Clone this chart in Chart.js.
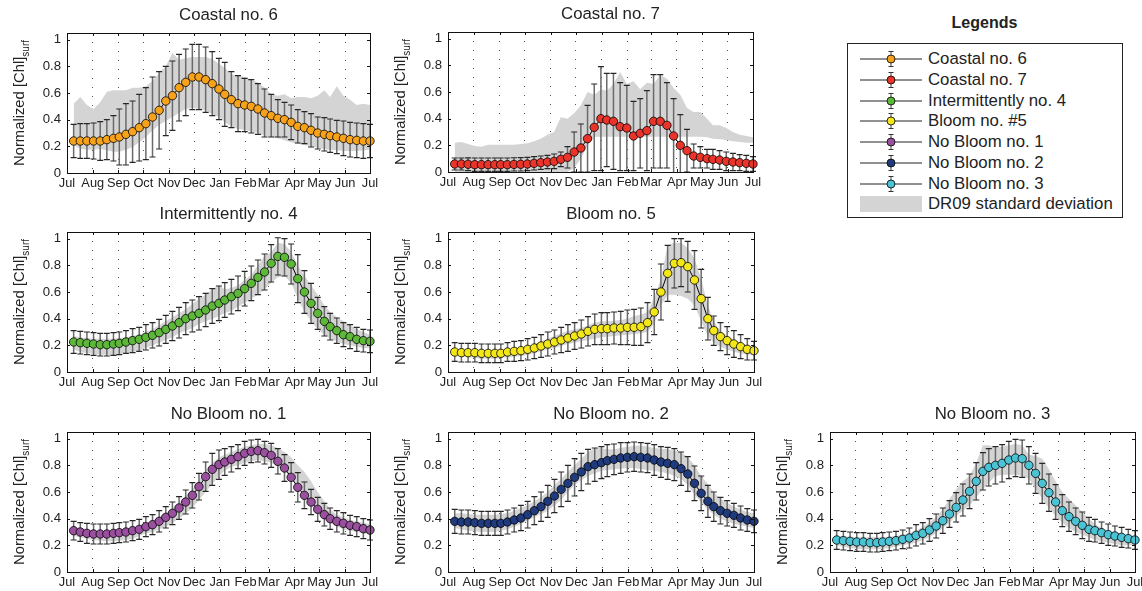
<!DOCTYPE html>
<html>
<head>
<meta charset="utf-8">
<title>Normalized [Chl]surf seasonal cycles</title>
<script src="https://cdn.jsdelivr.net/npm/chart.js@4.4.1/dist/chart.umd.min.js"></script>
<style>
  html, body { margin: 0; padding: 0; background: #fff; }
  body { width: 1142px; height: 591px; position: relative; overflow: hidden; font-family: "Liberation Sans", Arial, sans-serif; color: #222; }
  canvas { position: absolute; }
  #legendTitle { position: absolute; left: 847px; width: 275px; top: 14px; text-align: center; font-weight: bold; font-size: 16px; }
  #legendBox { position: absolute; left: 847px; top: 43px; width: 274px; height: 173px; border: 1px solid #222; }
  .entry { position: absolute; left: 0; height: 20px; display: flex; align-items: center; font-size: 16.8px; white-space: nowrap; }
  .entry svg { margin-left: 11px; margin-right: 5px; }
</style>
</head>
<body>
<div id="legendTitle">Legends</div>
<div id="legendBox"></div>
<script>
// Eje temporal: compuestos de 8 días, de julio a julio
const days = [8, 16, 24, 32, 40, 48, 56, 63, 71, 79, 87, 95, 103, 111, 119, 127, 135, 143, 151, 159, 167, 175, 183, 190, 198, 206, 214, 222, 230, 238, 246, 254, 262, 270, 278, 286, 294, 302, 310, 317, 325, 333, 341, 349, 357, 365];
const monthTicks = [0, 31, 62, 92, 123, 153, 184, 215, 243, 274, 304, 335, 365];
const monthLabels = ['Jul', 'Aug', 'Sep', 'Oct', 'Nov', 'Dec', 'Jan', 'Feb', 'Mar', 'Apr', 'May', 'Jun', 'Jul'];
const yTicks = [0, 0.2, 0.4, 0.6, 0.8, 1];

// Coastal no. 6
const c6Mean = [0.24, 0.24, 0.24, 0.24, 0.24, 0.25, 0.26, 0.27, 0.29, 0.31, 0.34, 0.37, 0.42, 0.47, 0.54, 0.58, 0.64, 0.68, 0.72, 0.72, 0.70, 0.67, 0.63, 0.59, 0.55, 0.52, 0.51, 0.50, 0.48, 0.45, 0.43, 0.41, 0.40, 0.38, 0.35, 0.34, 0.32, 0.30, 0.29, 0.28, 0.27, 0.26, 0.25, 0.245, 0.24, 0.24];
const c6Sd = [0.125, 0.13, 0.13, 0.135, 0.145, 0.15, 0.17, 0.21, 0.23, 0.23, 0.25, 0.27, 0.30, 0.29, 0.26, 0.26, 0.25, 0.25, 0.245, 0.245, 0.245, 0.24, 0.23, 0.24, 0.21, 0.21, 0.20, 0.20, 0.19, 0.18, 0.16, 0.14, 0.13, 0.13, 0.125, 0.12, 0.125, 0.12, 0.125, 0.125, 0.125, 0.13, 0.13, 0.13, 0.13, 0.125];
const c6BandHi = [0.52, 0.57, 0.51, 0.48, 0.53, 0.61, 0.62, 0.62, 0.62, 0.64, 0.64, 0.65, 0.69, 0.75, 0.80, 0.90, 0.85, 0.86, 0.87, 0.87, 0.87, 0.855, 0.82, 0.79, 0.74, 0.73, 0.72, 0.70, 0.68, 0.64, 0.59, 0.58, 0.59, 0.56, 0.57, 0.57, 0.56, 0.58, 0.62, 0.57, 0.65, 0.58, 0.55, 0.51, 0.52, 0.51];
const c6BandLo = [0.21, 0.18, 0.175, 0.175, 0.18, 0.17, 0.16, 0.16, 0.175, 0.195, 0.23, 0.27, 0.32, 0.36, 0.39, 0.42, 0.45, 0.48, 0.49, 0.48, 0.47, 0.44, 0.42, 0.38, 0.35, 0.33, 0.325, 0.31, 0.30, 0.28, 0.27, 0.26, 0.245, 0.23, 0.22, 0.21, 0.20, 0.19, 0.18, 0.175, 0.17, 0.165, 0.165, 0.165, 0.17, 0.175];

// Coastal no. 7
const c7Mean = [0.06, 0.06, 0.058, 0.055, 0.055, 0.055, 0.055, 0.055, 0.055, 0.057, 0.058, 0.06, 0.065, 0.07, 0.075, 0.08, 0.095, 0.11, 0.15, 0.18, 0.25, 0.335, 0.40, 0.39, 0.38, 0.34, 0.33, 0.27, 0.29, 0.31, 0.38, 0.38, 0.35, 0.27, 0.20, 0.16, 0.12, 0.11, 0.10, 0.095, 0.09, 0.08, 0.075, 0.07, 0.065, 0.06];
const c7Sd = [0.045, 0.045, 0.048, 0.05, 0.05, 0.05, 0.05, 0.05, 0.05, 0.05, 0.05, 0.05, 0.05, 0.05, 0.05, 0.055, 0.055, 0.08, 0.15, 0.18, 0.25, 0.325, 0.39, 0.35, 0.36, 0.33, 0.32, 0.26, 0.26, 0.30, 0.35, 0.35, 0.32, 0.28, 0.23, 0.16, 0.09, 0.08, 0.07, 0.075, 0.07, 0.07, 0.065, 0.06, 0.06, 0.055];
const c7BandHi = [0.22, 0.225, 0.21, 0.195, 0.19, 0.205, 0.205, 0.205, 0.205, 0.205, 0.21, 0.215, 0.23, 0.25, 0.28, 0.30, 0.41, 0.40, 0.44, 0.50, 0.60, 0.58, 0.62, 0.61, 0.66, 0.75, 0.66, 0.68, 0.62, 0.67, 0.66, 0.73, 0.70, 0.63, 0.58, 0.48, 0.45, 0.45, 0.40, 0.35, 0.35, 0.33, 0.30, 0.28, 0.27, 0.26];
const c7BandLo = [0, 0, 0, 0, 0, 0, 0, 0, 0, 0, 0, 0, 0, 0, 0, 0, 0, 0, 0.03, 0.10, 0.20, 0.265, 0.265, 0.265, 0.265, 0.265, 0.265, 0.265, 0.265, 0.265, 0.265, 0.265, 0.265, 0.265, 0.265, 0.265, 0.265, 0.265, 0.26, 0.25, 0.245, 0.24, 0.23, 0.225, 0.22, 0.22];

// Intermittently no. 4
const i4Mean = [0.225, 0.22, 0.215, 0.21, 0.205, 0.205, 0.21, 0.215, 0.225, 0.235, 0.245, 0.26, 0.275, 0.295, 0.32, 0.345, 0.37, 0.40, 0.42, 0.44, 0.465, 0.495, 0.515, 0.54, 0.565, 0.59, 0.625, 0.665, 0.71, 0.75, 0.815, 0.867, 0.86, 0.81, 0.70, 0.60, 0.515, 0.44, 0.38, 0.34, 0.31, 0.28, 0.265, 0.245, 0.235, 0.23];
const i4Sd = [0.085, 0.085, 0.085, 0.085, 0.085, 0.085, 0.085, 0.085, 0.085, 0.09, 0.09, 0.095, 0.095, 0.10, 0.105, 0.11, 0.115, 0.12, 0.12, 0.125, 0.125, 0.13, 0.13, 0.13, 0.13, 0.13, 0.13, 0.13, 0.13, 0.135, 0.14, 0.14, 0.14, 0.15, 0.18, 0.16, 0.15, 0.12, 0.11, 0.10, 0.095, 0.09, 0.09, 0.09, 0.085, 0.085];
const i4BandHi = [0.27, 0.26, 0.255, 0.25, 0.25, 0.25, 0.25, 0.255, 0.26, 0.27, 0.28, 0.30, 0.32, 0.35, 0.38, 0.41, 0.44, 0.47, 0.51, 0.55, 0.58, 0.62, 0.65, 0.62, 0.63, 0.65, 0.69, 0.73, 0.80, 0.87, 0.90, 0.97, 0.96, 0.90, 0.80, 0.72, 0.65, 0.58, 0.50, 0.45, 0.41, 0.38, 0.35, 0.32, 0.30, 0.28];
const i4BandLo = [0.17, 0.15, 0.14, 0.135, 0.13, 0.13, 0.13, 0.135, 0.14, 0.15, 0.16, 0.18, 0.20, 0.22, 0.24, 0.26, 0.29, 0.31, 0.33, 0.36, 0.38, 0.40, 0.42, 0.44, 0.46, 0.49, 0.52, 0.55, 0.58, 0.62, 0.67, 0.71, 0.72, 0.67, 0.55, 0.45, 0.38, 0.32, 0.28, 0.25, 0.23, 0.21, 0.20, 0.19, 0.18, 0.18];

// Bloom no. 5
const b5Mean = [0.15, 0.145, 0.145, 0.145, 0.14, 0.14, 0.14, 0.14, 0.15, 0.155, 0.16, 0.17, 0.18, 0.195, 0.21, 0.225, 0.24, 0.255, 0.27, 0.285, 0.305, 0.32, 0.325, 0.325, 0.33, 0.33, 0.335, 0.335, 0.34, 0.37, 0.45, 0.60, 0.74, 0.815, 0.82, 0.79, 0.69, 0.55, 0.40, 0.31, 0.265, 0.235, 0.21, 0.19, 0.17, 0.16];
const b5Sd = [0.07, 0.07, 0.07, 0.07, 0.07, 0.07, 0.07, 0.07, 0.07, 0.075, 0.075, 0.08, 0.08, 0.085, 0.09, 0.09, 0.095, 0.10, 0.10, 0.105, 0.11, 0.115, 0.12, 0.12, 0.12, 0.125, 0.13, 0.135, 0.14, 0.15, 0.17, 0.21, 0.21, 0.185, 0.18, 0.19, 0.22, 0.22, 0.16, 0.11, 0.105, 0.105, 0.10, 0.09, 0.08, 0.07];
const b5BandHi = [0.17, 0.165, 0.165, 0.16, 0.16, 0.16, 0.16, 0.16, 0.165, 0.17, 0.18, 0.19, 0.21, 0.23, 0.25, 0.27, 0.29, 0.31, 0.32, 0.33, 0.35, 0.37, 0.38, 0.38, 0.385, 0.39, 0.40, 0.42, 0.43, 0.45, 0.56, 0.70, 0.95, 0.97, 0.97, 0.93, 0.85, 0.70, 0.50, 0.38, 0.31, 0.27, 0.24, 0.22, 0.20, 0.18];
const b5BandLo = [0.12, 0.115, 0.11, 0.105, 0.10, 0.10, 0.10, 0.105, 0.11, 0.115, 0.12, 0.13, 0.14, 0.155, 0.17, 0.18, 0.195, 0.21, 0.22, 0.23, 0.24, 0.25, 0.26, 0.265, 0.27, 0.275, 0.28, 0.285, 0.29, 0.30, 0.36, 0.50, 0.58, 0.58, 0.57, 0.55, 0.50, 0.38, 0.27, 0.22, 0.19, 0.17, 0.15, 0.14, 0.13, 0.13];

// No Bloom no. 1
const n1Mean = [0.31, 0.30, 0.29, 0.285, 0.285, 0.285, 0.29, 0.295, 0.30, 0.31, 0.32, 0.34, 0.355, 0.38, 0.41, 0.44, 0.48, 0.525, 0.575, 0.64, 0.715, 0.77, 0.805, 0.825, 0.845, 0.865, 0.89, 0.905, 0.91, 0.895, 0.875, 0.83, 0.78, 0.71, 0.635, 0.575, 0.525, 0.47, 0.43, 0.40, 0.38, 0.365, 0.35, 0.34, 0.325, 0.315];
const n1Sd = [0.07, 0.07, 0.075, 0.075, 0.075, 0.075, 0.075, 0.075, 0.075, 0.075, 0.075, 0.075, 0.075, 0.08, 0.08, 0.085, 0.085, 0.09, 0.095, 0.10, 0.11, 0.12, 0.11, 0.10, 0.095, 0.09, 0.09, 0.085, 0.085, 0.085, 0.09, 0.095, 0.10, 0.11, 0.11, 0.10, 0.095, 0.09, 0.085, 0.08, 0.08, 0.08, 0.075, 0.075, 0.075, 0.075];
const n1BandHi = [0.34, 0.33, 0.32, 0.315, 0.31, 0.31, 0.31, 0.315, 0.32, 0.33, 0.34, 0.36, 0.38, 0.41, 0.44, 0.48, 0.52, 0.57, 0.62, 0.69, 0.76, 0.82, 0.86, 0.88, 0.90, 0.92, 0.94, 0.95, 0.96, 0.96, 0.95, 0.93, 0.90, 0.86, 0.80, 0.75, 0.68, 0.60, 0.53, 0.47, 0.43, 0.41, 0.39, 0.38, 0.37, 0.36];
const n1BandLo = [0.27, 0.26, 0.25, 0.24, 0.235, 0.23, 0.23, 0.235, 0.24, 0.25, 0.27, 0.29, 0.30, 0.32, 0.34, 0.37, 0.40, 0.44, 0.48, 0.54, 0.60, 0.66, 0.72, 0.76, 0.79, 0.80, 0.82, 0.83, 0.84, 0.83, 0.82, 0.79, 0.76, 0.70, 0.63, 0.57, 0.50, 0.44, 0.40, 0.37, 0.34, 0.32, 0.31, 0.30, 0.29, 0.28];

// No Bloom no. 2
const n2Mean = [0.38, 0.375, 0.375, 0.37, 0.365, 0.365, 0.365, 0.365, 0.375, 0.39, 0.405, 0.43, 0.46, 0.49, 0.53, 0.57, 0.62, 0.665, 0.71, 0.75, 0.79, 0.805, 0.82, 0.835, 0.845, 0.855, 0.86, 0.865, 0.86, 0.855, 0.84, 0.825, 0.815, 0.805, 0.775, 0.735, 0.665, 0.59, 0.53, 0.49, 0.46, 0.44, 0.425, 0.405, 0.39, 0.38];
const n2Sd = [0.09, 0.09, 0.09, 0.09, 0.09, 0.09, 0.09, 0.09, 0.09, 0.09, 0.095, 0.10, 0.105, 0.11, 0.12, 0.125, 0.13, 0.135, 0.14, 0.14, 0.13, 0.125, 0.12, 0.12, 0.115, 0.115, 0.11, 0.11, 0.11, 0.11, 0.115, 0.115, 0.12, 0.12, 0.125, 0.13, 0.13, 0.13, 0.12, 0.11, 0.10, 0.095, 0.09, 0.09, 0.085, 0.085];
const n2BandHi = [0.44, 0.44, 0.435, 0.43, 0.43, 0.43, 0.43, 0.435, 0.44, 0.46, 0.48, 0.50, 0.53, 0.56, 0.60, 0.65, 0.70, 0.75, 0.80, 0.85, 0.90, 0.93, 0.93, 0.92, 0.92, 0.93, 0.94, 0.945, 0.95, 0.94, 0.93, 0.925, 0.92, 0.91, 0.90, 0.86, 0.80, 0.72, 0.66, 0.60, 0.55, 0.52, 0.49, 0.47, 0.45, 0.44];
const n2BandLo = [0.33, 0.32, 0.31, 0.305, 0.30, 0.30, 0.30, 0.31, 0.32, 0.34, 0.36, 0.385, 0.41, 0.435, 0.46, 0.50, 0.54, 0.60, 0.65, 0.69, 0.72, 0.74, 0.76, 0.765, 0.77, 0.775, 0.78, 0.78, 0.77, 0.765, 0.76, 0.75, 0.74, 0.72, 0.70, 0.65, 0.58, 0.52, 0.47, 0.43, 0.40, 0.38, 0.36, 0.35, 0.34, 0.33];

// No Bloom no. 3
const n3Mean = [0.24, 0.235, 0.23, 0.225, 0.225, 0.22, 0.22, 0.225, 0.23, 0.235, 0.245, 0.255, 0.275, 0.29, 0.315, 0.345, 0.385, 0.435, 0.485, 0.54, 0.605, 0.68, 0.755, 0.785, 0.80, 0.815, 0.84, 0.855, 0.85, 0.80, 0.74, 0.665, 0.595, 0.525, 0.46, 0.415, 0.38, 0.35, 0.32, 0.31, 0.295, 0.28, 0.27, 0.26, 0.25, 0.24];
const n3Sd = [0.07, 0.07, 0.07, 0.07, 0.07, 0.07, 0.07, 0.07, 0.07, 0.07, 0.07, 0.075, 0.08, 0.08, 0.085, 0.09, 0.095, 0.10, 0.11, 0.12, 0.13, 0.14, 0.14, 0.14, 0.14, 0.14, 0.14, 0.14, 0.14, 0.14, 0.15, 0.15, 0.14, 0.13, 0.12, 0.11, 0.10, 0.10, 0.09, 0.085, 0.08, 0.08, 0.075, 0.075, 0.07, 0.07];
const n3BandHi = [0.27, 0.27, 0.265, 0.26, 0.26, 0.26, 0.26, 0.26, 0.265, 0.27, 0.28, 0.29, 0.31, 0.34, 0.37, 0.41, 0.47, 0.55, 0.62, 0.68, 0.72, 0.82, 0.95, 0.95, 0.93, 0.94, 0.95, 0.96, 0.95, 0.88, 0.87, 0.85, 0.77, 0.68, 0.60, 0.55, 0.50, 0.45, 0.40, 0.36, 0.33, 0.31, 0.30, 0.29, 0.28, 0.27];
const n3BandLo = [0.20, 0.19, 0.18, 0.175, 0.17, 0.17, 0.17, 0.175, 0.18, 0.19, 0.20, 0.21, 0.22, 0.24, 0.26, 0.29, 0.33, 0.37, 0.42, 0.46, 0.50, 0.56, 0.62, 0.67, 0.72, 0.73, 0.73, 0.73, 0.72, 0.70, 0.62, 0.55, 0.48, 0.42, 0.37, 0.33, 0.30, 0.28, 0.26, 0.24, 0.23, 0.22, 0.21, 0.20, 0.20, 0.20];

const bandColor = '#d4d4d4';
const fontFamily = '"Liberation Sans", Arial, Helvetica, sans-serif';

// Paneles: posición del área de trazado en la página (left/top) y ancho
const panels = [
  { title: 'Coastal no. 6', legend: 'Coastal no. 6', color: '#f7a21b', mean: c6Mean, sd: c6Sd, hi: c6BandHi, lo: c6BandLo, left: 67, top: 33, width: 303 },
  { title: 'Coastal no. 7', legend: 'Coastal no. 7', color: '#e8342a', mean: c7Mean, sd: c7Sd, hi: c7BandHi, lo: c7BandLo, left: 448, top: 32, width: 305 },
  { title: 'Intermittently no. 4', legend: 'Intermittently no. 4', color: '#5db83a', mean: i4Mean, sd: i4Sd, hi: i4BandHi, lo: i4BandLo, left: 67, top: 232, width: 303 },
  { title: 'Bloom no. 5', legend: 'Bloom no. #5', color: '#f3e619', mean: b5Mean, sd: b5Sd, hi: b5BandHi, lo: b5BandLo, left: 448, top: 232, width: 306 },
  { title: 'No Bloom no. 1', legend: 'No Bloom no. 1', color: '#9a4f9f', mean: n1Mean, sd: n1Sd, hi: n1BandHi, lo: n1BandLo, left: 67, top: 432, width: 303 },
  { title: 'No Bloom no. 2', legend: 'No Bloom no. 2', color: '#1f3a7d', mean: n2Mean, sd: n2Sd, hi: n2BandHi, lo: n2BandLo, left: 448, top: 432, width: 306 },
  { title: 'No Bloom no. 3', legend: 'No Bloom no. 3', color: '#4bc3d4', mean: n3Mean, sd: n3Sd, hi: n3BandHi, lo: n3BandLo, left: 830, top: 432, width: 305 },
];

const PLOT_H = 140;
const Y_AXIS_W = 67;
const TOP_PAD = 33;
const RIGHT_PAD = 14;
const X_AXIS_H = 23;

Chart.defaults.color = '#222';
Chart.defaults.font.family = fontFamily;

// Barras de error, marco, marcas interiores, título y etiqueta del eje Y
const decorPlugin = (p) => ({
  id: 'decor',
  beforeDatasetDraw(chart, args) {
    if (args.index !== 0) return;
    const { ctx, chartArea: a, scales: { x, y } } = chart;
    ctx.save();
    ctx.beginPath();
    ctx.rect(a.left - 10, a.top, a.right - a.left + 20, a.bottom - a.top);
    ctx.clip();
    p.mean.forEach((m, i) => {
      const px = x.getPixelForValue(days[i]);
      const top = y.getPixelForValue(m + p.sd[i]);
      const bot = y.getPixelForValue(m - p.sd[i]);
      ctx.strokeStyle = '#6a6a6a';
      ctx.lineWidth = 1.5;
      ctx.beginPath();
      ctx.moveTo(px, top);
      ctx.lineTo(px, bot);
      ctx.stroke();
      ctx.strokeStyle = '#262626';
      ctx.lineWidth = 1.1;
      ctx.beginPath();
      ctx.moveTo(px - 3, top); ctx.lineTo(px + 3, top);
      ctx.moveTo(px - 3, bot); ctx.lineTo(px + 3, bot);
      ctx.stroke();
    });
    ctx.restore();
  },
  afterDraw(chart) {
    const { ctx, chartArea: a, scales: { x, y } } = chart;
    ctx.save();
    // Marco completo
    ctx.strokeStyle = '#111';
    ctx.lineWidth = 1;
    ctx.strokeRect(Math.round(a.left) + 0.5, Math.round(a.top) + 0.5, Math.round(a.right - a.left), Math.round(a.bottom - a.top));
    // Marcas hacia dentro
    ctx.beginPath();
    monthTicks.forEach(v => {
      const px = Math.round(x.getPixelForValue(v)) + 0.5;
      ctx.moveTo(px, a.bottom); ctx.lineTo(px, a.bottom - 3);
      ctx.moveTo(px, a.top); ctx.lineTo(px, a.top + 3);
    });
    yTicks.forEach(v => {
      const py = Math.round(y.getPixelForValue(v)) + 0.5;
      ctx.moveTo(a.left, py); ctx.lineTo(a.left + 3, py);
      ctx.moveTo(a.right, py); ctx.lineTo(a.right - 3, py);
    });
    ctx.stroke();
    // Título
    ctx.fillStyle = '#222';
    ctx.font = `16.8px ${fontFamily}`;
    ctx.textAlign = 'center';
    ctx.textBaseline = 'middle';
    ctx.fillText(p.title, (a.left + a.right) / 2 + 10, 15);
    // Etiqueta del eje Y con subíndice
    const main = 'Normalized [Chl]';
    const sub = 'surf';
    ctx.textAlign = 'left';
    ctx.textBaseline = 'alphabetic';
    ctx.font = `14.8px ${fontFamily}`;
    const w1 = ctx.measureText(main).width;
    ctx.font = `10px ${fontFamily}`;
    const w2 = ctx.measureText(sub).width;
    ctx.translate(a.left - 48, (a.top + a.bottom) / 2);
    ctx.rotate(-Math.PI / 2);
    ctx.font = `14.8px ${fontFamily}`;
    ctx.fillText(main, -(w1 + w2) / 2, 5);
    ctx.font = `10px ${fontFamily}`;
    ctx.fillText(sub, -(w1 + w2) / 2 + w1, 10);
    ctx.restore();
  }
});

const toPoints = (values) => values.map((v, i) => ({ x: days[i], y: v }));

panels.forEach(p => {
  const canvas = document.createElement('canvas');
  canvas.width = Y_AXIS_W + p.width + RIGHT_PAD;
  canvas.height = TOP_PAD + PLOT_H + X_AXIS_H;
  canvas.style.left = `${p.left - Y_AXIS_W}px`;
  canvas.style.top = `${p.top - TOP_PAD}px`;
  document.body.appendChild(canvas);

  new Chart(canvas, {
    type: 'line',
    data: {
      datasets: [
        {
          label: p.legend,
          data: toPoints(p.mean),
          borderColor: '#000',
          borderWidth: 1,
          pointRadius: 4.2,
          pointBackgroundColor: p.color,
          pointBorderColor: '#000',
          pointBorderWidth: 0.8,
          fill: false,
          clip: false,
        },
        {
          label: 'DR09 upper',
          data: toPoints(p.hi),
          borderColor: 'rgba(0,0,0,0)',
          backgroundColor: bandColor,
          pointRadius: 0,
          fill: '+1',
        },
        {
          label: 'DR09 lower',
          data: toPoints(p.lo),
          borderColor: 'rgba(0,0,0,0)',
          pointRadius: 0,
          fill: false,
        },
      ],
    },
    options: {
      responsive: false,
      animation: false,
      layout: { padding: { top: TOP_PAD, right: RIGHT_PAD, left: 0, bottom: 0 } },
      plugins: { legend: { display: false }, tooltip: { enabled: false } },
      scales: {
        x: {
          type: 'linear',
          min: 0,
          max: 365,
          afterBuildTicks: scale => { scale.ticks = monthTicks.map(v => ({ value: v })); },
          afterFit: scale => { scale.height = X_AXIS_H; },
          ticks: {
            autoSkip: false,
            maxRotation: 0,
            padding: 3,
            font: { size: 12.8 },
            callback: value => monthLabels[monthTicks.indexOf(value)],
          },
          grid: { color: '#555', drawTicks: false, lineWidth: 1 },
          border: { display: false, dash: [1, 8] },
        },
        y: {
          min: 0,
          max: 1.05,
          afterBuildTicks: scale => { scale.ticks = yTicks.map(v => ({ value: v })); },
          afterFit: scale => { scale.width = Y_AXIS_W; },
          ticks: {
            padding: 6,
            font: { size: 13.2 },
            callback: value => String(value),
          },
          grid: { display: false, drawTicks: false },
          border: { display: false },
        },
      },
    },
    plugins: [decorPlugin(p)],
  });
});

// Leyenda común
const legendBox = document.getElementById('legendBox');
const rowCenters = [15, 36, 57, 77, 98, 119, 140, 160];
panels.forEach((p, i) => {
  const row = document.createElement('div');
  row.className = 'entry';
  row.style.top = `${rowCenters[i] - 10}px`;
  row.innerHTML = `
    <svg width="64" height="20" viewBox="0 0 64 20">
      <line x1="1" y1="10" x2="63" y2="10" stroke="#222" stroke-width="1"/>
      <line x1="32" y1="2.5" x2="32" y2="17.5" stroke="#666" stroke-width="1.2"/>
      <line x1="29.5" y1="2.5" x2="34.5" y2="2.5" stroke="#333" stroke-width="1"/>
      <line x1="29.5" y1="17.5" x2="34.5" y2="17.5" stroke="#333" stroke-width="1"/>
      <circle cx="32" cy="10" r="4" fill="${p.color}" stroke="#000" stroke-width="0.8"/>
    </svg><span>${p.legend}</span>`;
  legendBox.appendChild(row);
});
const bandRow = document.createElement('div');
bandRow.className = 'entry';
bandRow.style.top = `${rowCenters[7] - 10}px`;
bandRow.innerHTML = `
  <svg width="64" height="20" viewBox="0 0 64 20">
    <rect x="1" y="2" width="62" height="16" fill="${bandColor}"/>
  </svg><span>DR09 standard deviation</span>`;
legendBox.appendChild(bandRow);
</script>
</body>
</html>
